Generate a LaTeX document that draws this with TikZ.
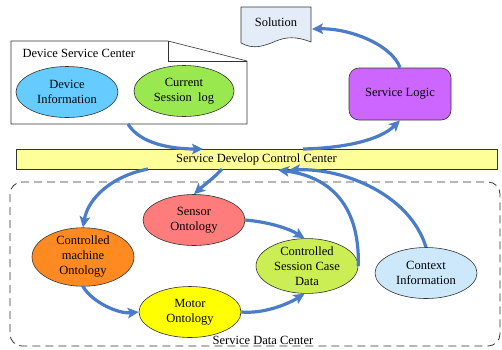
\documentclass[tikz,border=0pt]{standalone}
\usepackage{fontspec}
\setmainfont{Liberation Serif}
\usetikzlibrary{arrows.meta,shapes.geometric,calc}
\definecolor{arrowblue}{HTML}{4A7CC8}
\definecolor{diblue}{HTML}{66CCFF}
\definecolor{csgreen}{HTML}{99E850}
\definecolor{sensorred}{HTML}{FF7C7C}
\definecolor{cmoorange}{HTML}{FF8A22}
\definecolor{motoryellow}{HTML}{FFFF00}
\definecolor{cscdgreen}{HTML}{CCEE55}
\definecolor{ctxblue}{HTML}{CDE8FA}
\definecolor{slpurple}{HTML}{CC66FF}
\definecolor{baryellow}{HTML}{FFFF99}
\definecolor{solfill}{HTML}{E4ECF7}
\tikzset{
  txt/.style={font=\fontsize{12.5}{15}\selectfont, align=center},
  oval/.style={ellipse, draw=black!80, line width=0.6pt, minimum width=102pt, minimum height=51pt, inner sep=0pt, txt},
  flow/.style={draw=arrowblue, line width=3.2pt, -{Stealth[length=11pt,width=10.5pt,inset=2.5pt]}},
}
\begin{document}
\begin{tikzpicture}[x=1pt,y=-1pt]
\useasboundingbox (0,0) rectangle (502,349);
\fill[white] (0,0) rectangle (502,349);

% Service Data Center dashed region
\draw[black!80, line width=0.8pt, dash pattern=on 8pt off 5pt, rounded corners=12pt] (10,182) rectangle (500,346);
\node[txt, anchor=center] (sdc) at (263,340) {Service Data Center};

% Device Service Center folded box
\draw[black!80, line width=0.6pt, fill=white] (11,41) -- (168,41) -- (247,61) -- (247,124) -- (11,124) -- cycle;
\draw[black!80, line width=0.6pt] (168,41) -- (168,61) -- (247,61);
\node[txt, anchor=west] (dsc) at (19,53) {Device Service Center};
\coordinate (dscout) at (128,124);

\node[oval, fill=diblue] (di) at (67,92) {Device\\Information};
\node[oval, fill=csgreen, minimum width=100pt] (cs) at (184,91) {Current\\Session\ \ log};

% Solution document
\draw[black!80, line width=0.6pt, fill=solfill] (241,7) -- (311,7) -- (311,42)
  .. controls (296,36) and (286,37) .. (276,41)
  .. controls (264,46) and (254,50) .. (241,43) -- cycle;
\node[txt] (sol) at (276,22) {Solution};
\coordinate (solin) at (312,29);

% Service Logic
\node[draw=black!80, line width=0.6pt, fill=slpurple, rounded corners=10pt, minimum width=102pt, minimum height=52pt, txt] (sl) at (400,94) {Service Logic};

% Control center bar
\node[draw=black!80, line width=0.6pt, fill=baryellow, minimum width=481pt, minimum height=20pt, inner sep=0pt, txt] (bar) at (256.5,159) {Service Develop Control Center};
\coordinate (b1) at (203,149);
\coordinate (b2) at (303,149);
\coordinate (b3) at (148,169);
\coordinate (b4) at (222,169);
\coordinate (b5) at (278,170);
\coordinate (b6) at (289,170);

% Ontologies
\node[oval, fill=sensorred] (sensor) at (194,220) {Sensor\\Ontology};
\node[oval, fill=cmoorange] (cmo) at (83,257) {Controlled\\machine\\Ontology};
\node[oval, fill=motoryellow] (motor) at (190,312) {Motor\\Ontology};
\node[oval, fill=cscdgreen] (cscd) at (307,266) {Controlled\\Session Case\\Data};
\node[oval, fill=ctxblue] (ctx) at (426,273) {Context\\Information};

% Arrows
\draw[flow] (dscout) .. controls (140,144) and (172,149) .. (b1);
\draw[flow] (b2) .. controls (345,148) and (380,140) .. (sl.south);
\draw[flow] (sl.north) .. controls (392,45) and (350,28) .. (solin);
\draw[flow] (b3) .. controls (112,176) and (88,198) .. (cmo.north);
\draw[flow] (b4) .. controls (214,178) and (204,185) .. (sensor.north);
\draw[flow] (sensor.east) .. controls (268,222) and (288,228) .. (cscd.95);
\draw[flow] (cmo.south) .. controls (92,302) and (118,314) .. (motor.west);
\draw[flow] (motor.east) .. controls (264,314) and (288,304) .. (cscd.265);
\draw[flow] (cscd.east) .. controls (360,200) and (325,176) .. (b5);
\draw[flow] (ctx.north) .. controls (410,195) and (345,168) .. (b6);
\end{tikzpicture}
\end{document}
